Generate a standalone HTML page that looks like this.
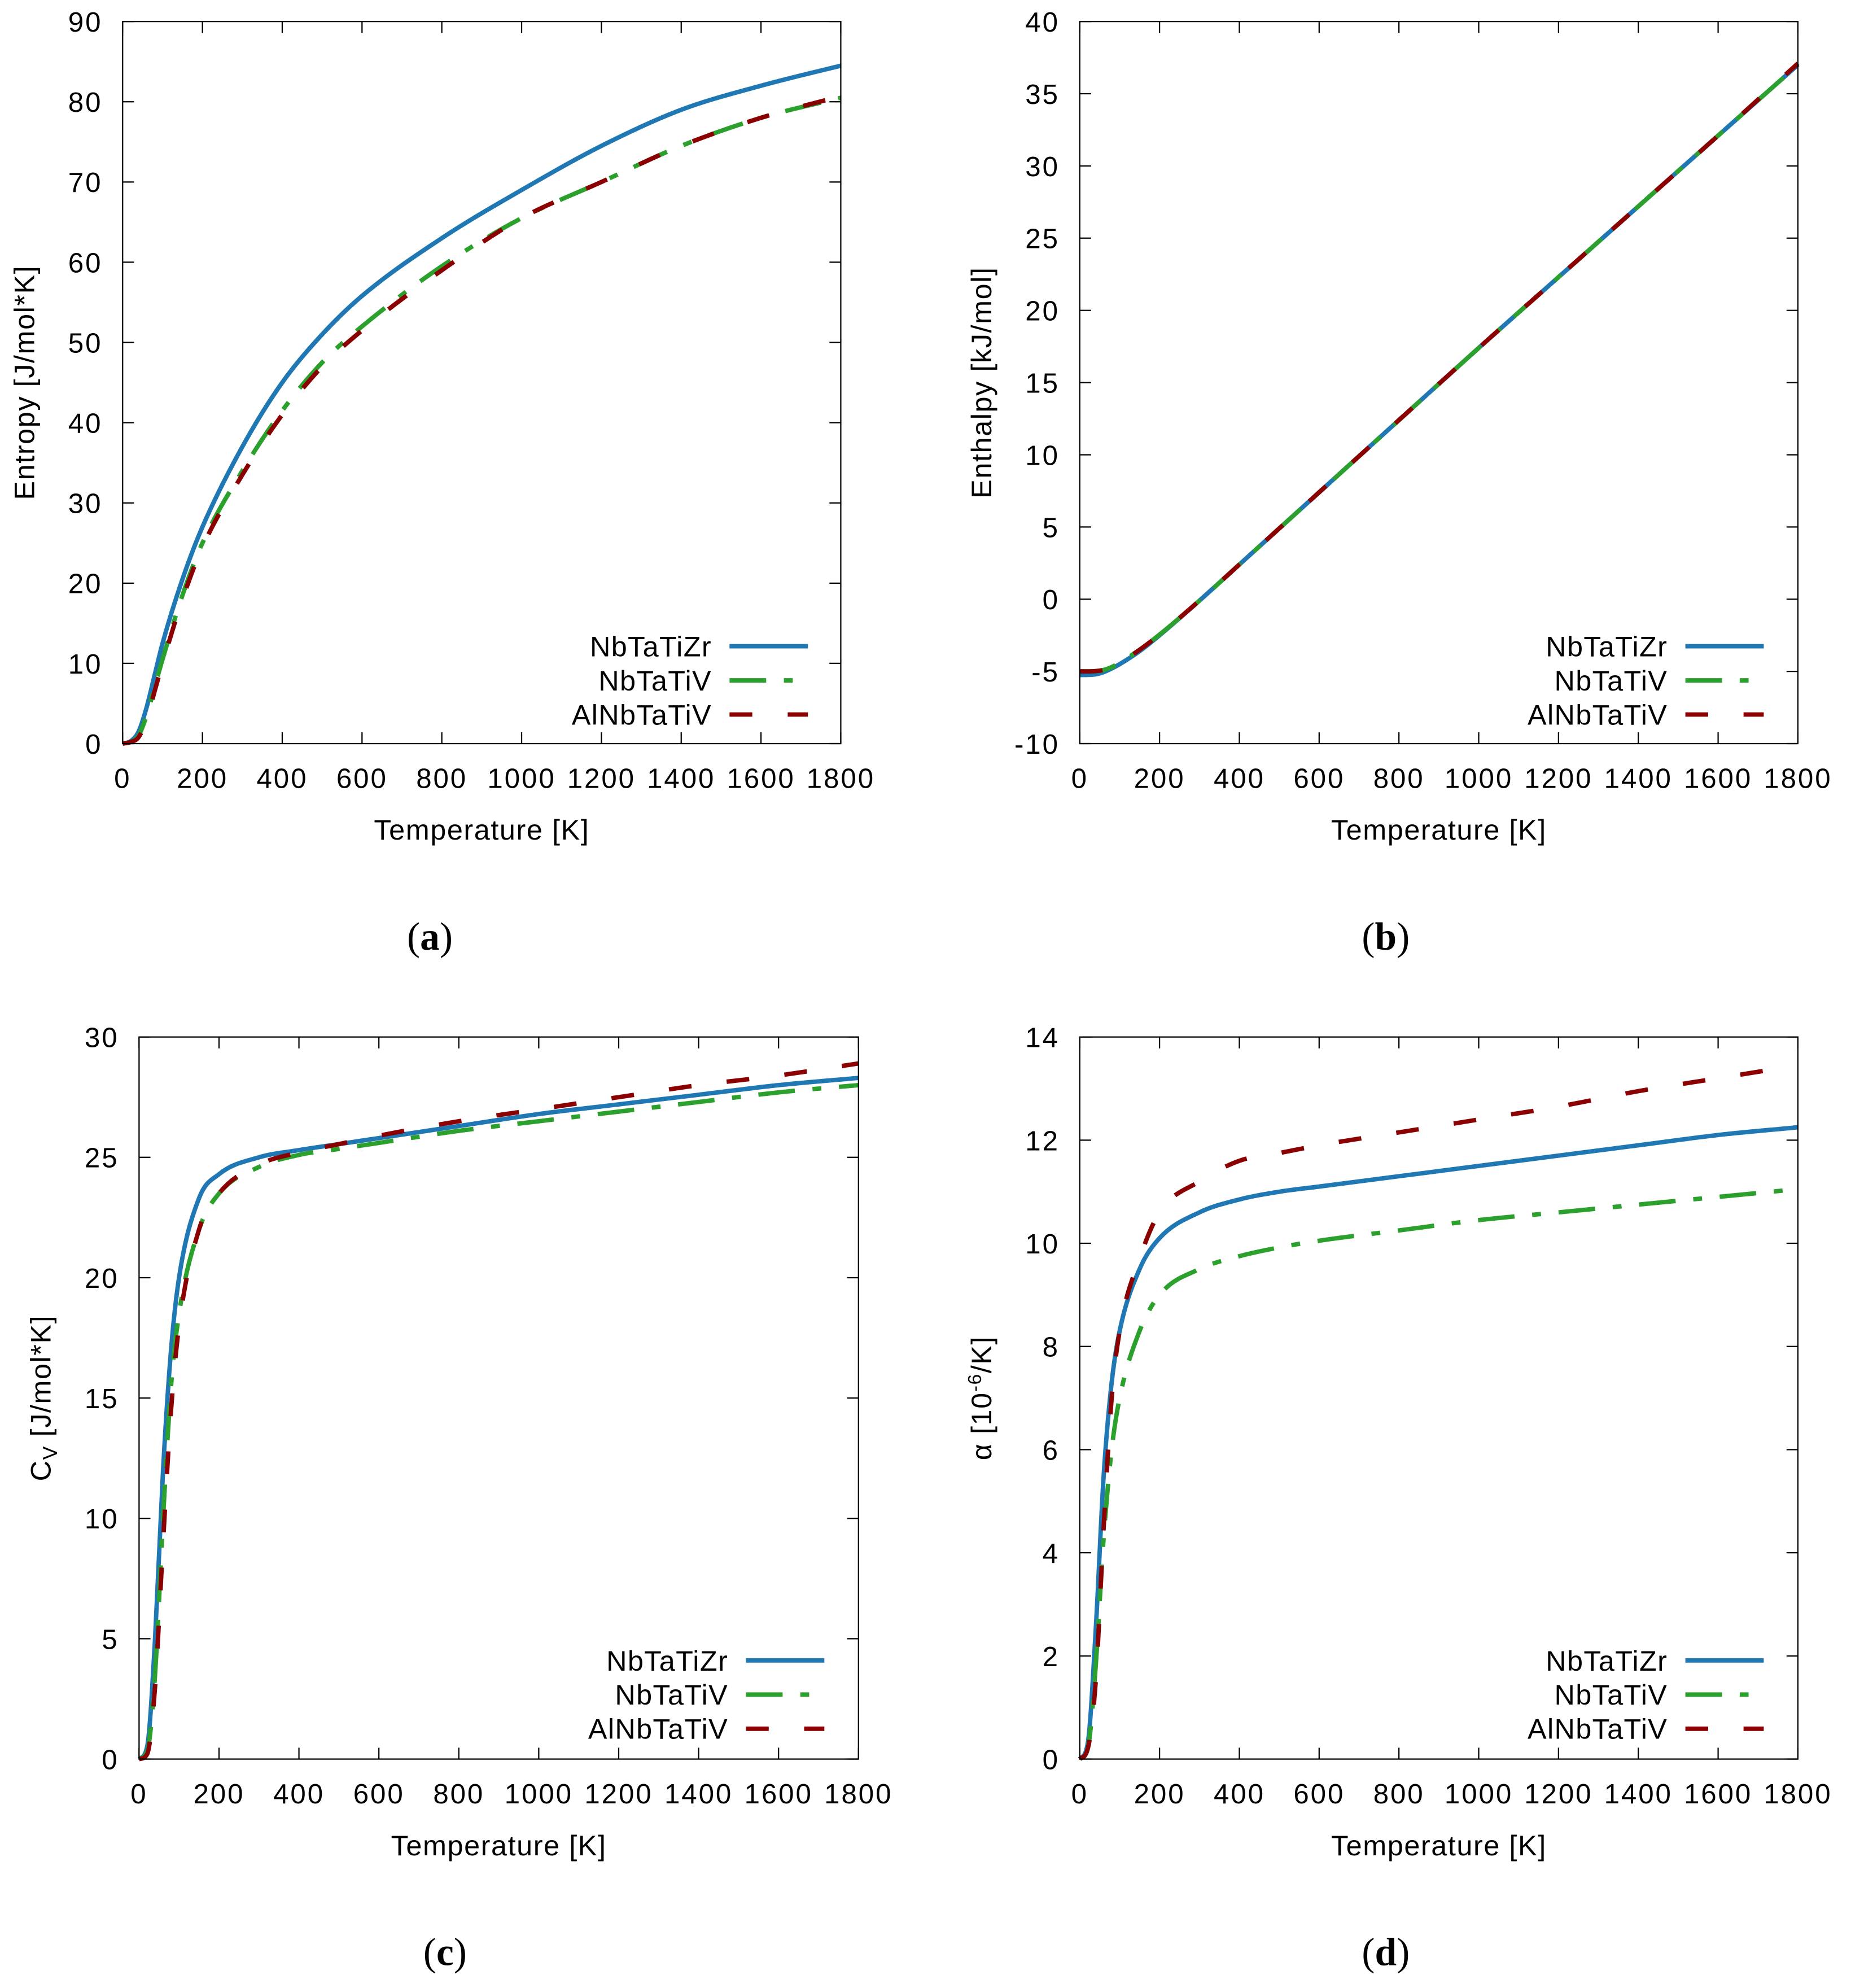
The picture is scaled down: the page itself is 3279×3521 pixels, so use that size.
<!DOCTYPE html>
<html><head><meta charset="utf-8"><style>
html,body{margin:0;padding:0;background:#fff;}
svg{display:block;}
text{font-family:"Liberation Sans",sans-serif;fill:#000;}
.cap{font-family:"Liberation Serif",serif;font-size:31px;}
</style></head><body>
<svg id="fig" width="3279" height="3521" viewBox="0 0 1464 1572" xmlns="http://www.w3.org/2000/svg"></svg>
<script>
const temps = [0,20,40,60,80,100,150,200,300,400,500,600,800,1000,1200,1400,1600,1800];
const seriesNames = ["NbTaTiZr","NbTaTiV","AlNbTaTiV"];
const entropyZr = [0,0.3,1.5,4.5,8.5,12.5,20.5,27,37,45,51,55.8,63,69,74.5,79,82,84.5];
const entropyV  = [0,0.2,1.0,3.5,7,10.5,18.5,25,34,41.5,47.5,52,59.5,65.5,70,74.5,78,80.5];
const entropyAl = [0,0.2,0.8,3,6.5,10,18,24.5,33.5,41,47,51.5,59,65.5,70,74.5,78,80.7];
const enthalpyZr = [-5.25,-5.24,-5.2,-5.05,-4.8,-4.5,-3.6,-2.5,-0.1,2.4,4.9,7.4,12.4,17.4,22.3,27.2,32.1,37.0];
const enthalpyV  = [-5.0,-5.0,-4.98,-4.9,-4.7,-4.4,-3.5,-2.45,-0.1,2.4,4.9,7.4,12.4,17.4,22.3,27.2,32.1,37.0];
const enthalpyAl = [-5.0,-5.0,-4.98,-4.9,-4.7,-4.4,-3.5,-2.45,-0.1,2.4,4.9,7.4,12.4,17.4,22.3,27.2,32.1,37.1];
const cvZr = [0,0.5,5,12,17,20,23.3,24.3,25,25.3,25.55,25.8,26.3,26.8,27.2,27.6,28,28.3];
const cvV  = [0,0.3,3.5,10,15.5,18.5,22,23.5,24.6,25.1,25.35,25.6,26.1,26.5,26.9,27.3,27.7,28.0];
const cvAl = [0,0.2,3,9,14.5,18,22,23.5,24.7,25.2,25.55,25.9,26.5,27,27.5,28,28.4,28.9];
const alphaZr = [0,0.3,2.5,5.5,7.3,8.3,9.5,10.1,10.6,10.85,11.0,11.1,11.3,11.5,11.7,11.9,12.1,12.25];
const alphaV  = [0,0.2,1.8,4.3,6,7,8.3,9,9.5,9.75,9.92,10.05,10.25,10.45,10.6,10.75,10.9,11.05];
const alphaAl = [0,0.2,1.5,4.5,7,8.3,9.7,10.6,11.2,11.6,11.75,11.9,12.15,12.4,12.65,12.95,13.2,13.45];
const xTicks = [0,200,400,600,800,1000,1200,1400,1600,1800];
const ticksA = [0,10,20,30,40,50,60,70,80,90];
const ticksB = [-10,-5,0,5,10,15,20,25,30,35,40];
const ticksC = [0,5,10,15,20,25,30];
const ticksD = [0,2,4,6,8,10,12,14];

const NS="http://www.w3.org/2000/svg";
const svg=document.getElementById('fig');
function el(tag,attrs,parent){const e=document.createElementNS(NS,tag);for(const k in attrs)e.setAttribute(k,attrs[k]);(parent||svg).appendChild(e);return e;}
const colors=["#1f77b4","#2ca02c","#8b0000"];
const dashes=["none","29,14,7,14","18,28"];

function monotonePath(xs,ys){
  const n=xs.length,d=[],m=[];
  for(let i=0;i<n-1;i++)d.push((ys[i+1]-ys[i])/(xs[i+1]-xs[i]));
  m[0]=d[0];m[n-1]=d[n-2];
  for(let i=1;i<n-1;i++)m[i]=(d[i-1]*d[i]<=0)?0:(d[i-1]+d[i])/2;
  for(let i=0;i<n-1;i++){if(d[i]===0){m[i]=0;m[i+1]=0;continue;}
    const a=m[i]/d[i],b=m[i+1]/d[i],s=a*a+b*b;
    if(s>9){const t=3/Math.sqrt(s);m[i]=t*a*d[i];m[i+1]=t*b*d[i];}}
  let p='M'+xs[0].toFixed(2)+','+ys[0].toFixed(2);
  for(let i=0;i<n-1;i++){const h=(xs[i+1]-xs[i])/3;
    p+='C'+(xs[i]+h).toFixed(2)+','+(ys[i]+m[i]*h).toFixed(2)+' '+(xs[i+1]-h).toFixed(2)+','+(ys[i+1]-m[i+1]*h).toFixed(2)+' '+xs[i+1].toFixed(2)+','+ys[i+1].toFixed(2);}
  return p;
}

function panel(p){
  const g=el('g',{});
  
  
  const X=v=>p.x0+(v-0)/(1800)*(p.x1-p.x0);
  const Y=v=>p.y1-(v-p.ymin)/(p.ymax-p.ymin)*(p.y1-p.y0);
  xTicks.forEach(t=>{
    const x=X(t);
    const a=el('line',{x1:x,x2:x,y1:p.y1,y2:p.y1-9,stroke:'#000','stroke-width':1},g);
    
    
    el('line',{x1:x,x2:x,y1:p.y0,y2:p.y0+9,stroke:'#000','stroke-width':1},g);
    const tx=el('text',{x:x,y:p.y1+35,'font-size':22,'letter-spacing':1.3,'text-anchor':'middle'},g);
    tx.textContent=t;
    
    
  });
  p.ticks.forEach(t=>{
    const y=Y(t);
    el('line',{x1:p.x0,x2:p.x0+9,y1:y,y2:y,stroke:'#000','stroke-width':1},g);
    el('line',{x1:p.x1,x2:p.x1-9,y1:y,y2:y,stroke:'#000','stroke-width':1},g);
    const tx=el('text',{x:p.x0-16,y:y+8,'font-size':22,'letter-spacing':1.3,'text-anchor':'end'},g);
    tx.textContent=t;
    
    
  });
  p.series.forEach((s,i)=>{
    const d=monotonePath(temps.map(X),s.map(Y));
    const path=el('path',{d:d,fill:'none',stroke:colors[i],'stroke-width':3.5,'stroke-dasharray':dashes[i],'stroke-linejoin':'round'},g);
    
    
  });
  const b=el('rect',{x:p.x0,y:p.y0,width:p.x1-p.x0,height:p.y1-p.y0,fill:'none',stroke:'#000','stroke-width':1},g);
  
  
  seriesNames.forEach((n,i)=>{
    const y=p.ly+i*27;
    const tx=el('text',{x:p.lx,y:y+8,'font-size':22.5,'letter-spacing':0.6,'text-anchor':'end'},g);
    tx.textContent=n;
    
    
    const ln=el('line',{x1:p.lx+14,x2:p.lx+76,y1:y,y2:y,stroke:colors[i],'stroke-width':3.5,'stroke-dasharray':dashes[i]},g);
    
    
  });
  const xl=el('text',{x:(p.x0+p.x1)/2,y:p.y1+76,'font-size':22.5,'letter-spacing':0.7,'text-anchor':'middle'},g);
  xl.textContent='Temperature [K]';
  
  
  const cy=(p.y0+p.y1)/2;
  const yl=el('text',{x:p.yx,y:cy,'font-size':22.5,'letter-spacing':0.7,'text-anchor':'middle',transform:`rotate(-90 ${p.yx} ${cy})`},g);
  yl.innerHTML=p.ylabel;
  
  
  const cap=el('text',{x:p.capx,y:p.capy,'text-anchor':'middle',class:'cap'},g);
  cap.innerHTML='(<tspan font-weight="bold">'+p.cap+'</tspan>)';
  
  
}

panel({id:'entropy-panel',x0:97,x1:665,y0:17,y1:588,ymin:0,ymax:90,ticks:ticksA,series:[entropyZr,entropyV,entropyAl],lx:563,ly:511,yx:27,ylabel:'Entropy [J/mol*K]',cap:'a',capx:340,capy:751});
panel({id:'enthalpy-panel',x0:854,x1:1422,y0:17,y1:588,ymin:-10,ymax:40,ticks:ticksB,series:[enthalpyZr,enthalpyV,enthalpyAl],lx:1319,ly:511,yx:784,ylabel:'Enthalpy [kJ/mol]',cap:'b',capx:1096,capy:751});
panel({id:'heat-capacity-panel',x0:110,x1:679,y0:820,y1:1391,ymin:0,ymax:30,ticks:ticksC,series:[cvZr,cvV,cvAl],lx:576,ly:1313,yx:40,ylabel:'C<tspan font-size="16" dy="5">V</tspan><tspan dy="-5"> [J/mol*K]</tspan>',cap:'c',capx:352,capy:1554});
panel({id:'thermal-expansion-panel',x0:854,x1:1422,y0:820,y1:1391,ymin:0,ymax:14,ticks:ticksD,series:[alphaZr,alphaV,alphaAl],lx:1319,ly:1313,yx:784,ylabel:'α [10<tspan font-size="15" dy="-8">-6</tspan><tspan dy="8">/K]</tspan>',cap:'d',capx:1096,capy:1554});
</script>
</body></html>
